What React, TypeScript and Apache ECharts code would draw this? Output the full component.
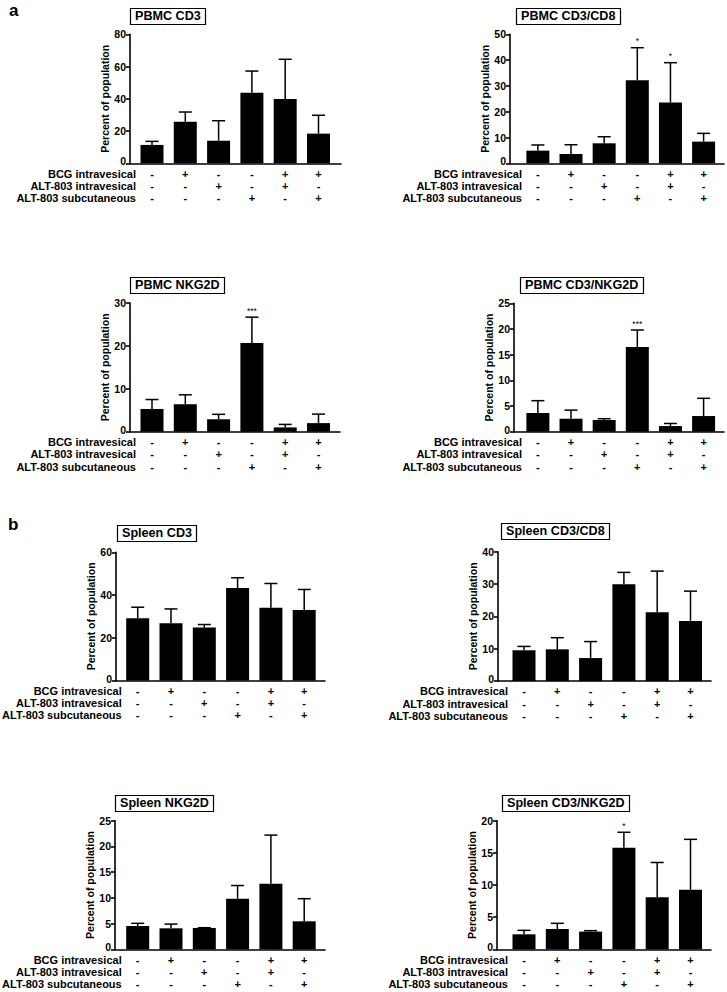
import React, { useEffect, useRef } from "react";
import * as echarts from "echarts";

// ---- data ----
const titles = [
  "PBMC CD3",
  "PBMC CD3/CD8",
  "PBMC NKG2D",
  "PBMC CD3/NKG2D",
  "Spleen CD3",
  "Spleen CD3/CD8",
  "Spleen NKG2D",
  "Spleen CD3/NKG2D",
];

const rowNames = ["BCG intravesical", "ALT-803 intravesical", "ALT-803 subcutaneous"];
const bcgIntravesical = ["-", "+", "-", "-", "+", "+"];
const altIntravesical = ["-", "-", "+", "-", "+", "-"];
const altSubcutaneous = ["-", "-", "-", "+", "-", "+"];

const pbmcCd3Mean = [11.4, 25.8, 14.0, 43.8, 39.9, 18.4];
const pbmcCd3Sd = [2.2, 6.0, 12.4, 13.4, 24.6, 11.4];
const pbmcCd3Cd8Mean = [4.9, 3.6, 7.75, 32.2, 23.6, 8.4];
const pbmcCd3Cd8Sd = [2.2, 3.6, 2.55, 12.6, 15.4, 3.2];
const pbmcNkg2dMean = [5.3, 6.4, 2.9, 20.7, 1.0, 2.0];
const pbmcNkg2dSd = [2.2, 2.2, 1.15, 6.0, 0.7, 2.1];
const pbmcCd3Nkg2dMean = [3.64, 2.53, 2.27, 16.5, 1.1, 3.05];
const pbmcCd3Nkg2dSd = [2.4, 1.67, 0.26, 3.3, 0.5, 3.45];
const spleenCd3Mean = [29.1, 26.8, 24.75, 43.3, 34.0, 33.0];
const spleenCd3Sd = [5.2, 6.7, 1.45, 4.8, 11.4, 9.6];
const spleenCd3Cd8Mean = [9.5, 9.8, 7.1, 29.9, 21.3, 18.6];
const spleenCd3Cd8Sd = [1.2, 3.6, 5.1, 3.7, 12.7, 9.2];
const spleenNkg2dMean = [4.53, 4.08, 4.15, 9.84, 12.76, 5.44];
const spleenNkg2dSd = [0.52, 0.82, 0.05, 2.56, 9.44, 4.4];
const spleenCd3Nkg2dMean = [2.33, 3.16, 2.75, 15.8, 8.08, 9.27];
const spleenCd3Nkg2dSd = [0.62, 0.88, 0.15, 2.4, 5.42, 7.83];

const pbmcCd3Sig = ["", "", "", "", "", ""];
const pbmcCd3Cd8Sig = ["", "", "", "*", "*", ""];
const pbmcNkg2dSig = ["", "", "", "***", "", ""];
const pbmcCd3Nkg2dSig = ["", "", "", "***", "", ""];
const spleenCd3Sig = ["", "", "", "", "", ""];
const spleenCd3Cd8Sig = ["", "", "", "", "", ""];
const spleenNkg2dSig = ["", "", "", "", "", ""];
const spleenCd3Nkg2dSig = ["", "", "", "*", "", ""];

const yMax = [80, 50, 30, 25, 60, 40, 25, 20];
const yStep = [20, 10, 10, 5, 20, 10, 5, 5];

const means = [
  pbmcCd3Mean, pbmcCd3Cd8Mean, pbmcNkg2dMean, pbmcCd3Nkg2dMean,
  spleenCd3Mean, spleenCd3Cd8Mean, spleenNkg2dMean, spleenCd3Nkg2dMean,
];
const sds = [
  pbmcCd3Sd, pbmcCd3Cd8Sd, pbmcNkg2dSd, pbmcCd3Nkg2dSd,
  spleenCd3Sd, spleenCd3Cd8Sd, spleenNkg2dSd, spleenCd3Nkg2dSd,
];
const sigs = [
  pbmcCd3Sig, pbmcCd3Cd8Sig, pbmcNkg2dSig, pbmcCd3Nkg2dSig,
  spleenCd3Sig, spleenCd3Cd8Sig, spleenNkg2dSig, spleenCd3Nkg2dSig,
];

// ---- layout (pixels) ----
const SPACING = 33.3;
const layout = [
  { axisX: 130, c0: 152, end: 341, top: 34.3, zero: 163.3, titleLeft: 130, titleTop: 8 },
  { axisX: 510, c0: 538, end: 725, top: 34.3, zero: 163.3, titleLeft: 516, titleTop: 8 },
  { axisX: 130, c0: 152, end: 340, top: 303, zero: 431.7, titleLeft: 130, titleTop: 277 },
  { axisX: 514, c0: 538, end: 725, top: 303.3, zero: 431.7, titleLeft: 520, titleTop: 277 },
  { axisX: 116, c0: 137.7, end: 325, top: 552.3, zero: 680.5, titleLeft: 117, titleTop: 525 },
  { axisX: 498, c0: 524, end: 711, top: 551.7, zero: 681, titleLeft: 501, titleTop: 523 },
  { axisX: 115, c0: 137.7, end: 325, top: 820.7, zero: 949.3, titleLeft: 115, titleTop: 795 },
  { axisX: 497, c0: 524, end: 711, top: 820.7, zero: 949.3, titleLeft: 502, titleTop: 795 },
];

const FONT = 'Arial, "Liberation Sans", Helvetica, sans-serif';
const LINE_H = 12.2;
const FIRST_ROW = 10.4;

function buildOption() {
  const grid: any[] = [];
  const xAxis: any[] = [];
  const yAxis: any[] = [];
  const series: any[] = [];
  const title: any[] = [];
  const graphic: any[] = [];

  layout.forEach((L, k) => {
    const lastCenter = L.c0 + 5 * SPACING;
    const xMin = -(L.c0 - L.axisX) / SPACING;
    const xMax = 5 + (L.end - lastCenter) / SPACING;
    grid.push({
      left: L.axisX,
      top: L.top,
      width: L.end - L.axisX,
      height: L.zero - L.top,
      containLabel: false,
    });
    xAxis.push({
      type: "value",
      gridIndex: k,
      min: xMin,
      max: xMax,
      splitLine: { show: false },
      axisTick: { show: false },
      axisLine: { show: true, onZero: false, lineStyle: { color: "#000", width: 1.6 } },
      axisLabel: {
        show: true,
        margin: FIRST_ROW - LINE_H / 2,
        lineHeight: LINE_H,
        fontSize: 11,
        fontWeight: "bold",
        fontFamily: FONT,
        color: "#000",
        showMinLabel: true,
        showMaxLabel: true,
        formatter: (v: number) => {
          const r = Math.round(v);
          if (Math.abs(v - r) > 1e-6 || r < 0 || r > 5) return "";
          return [bcgIntravesical[r], altIntravesical[r], altSubcutaneous[r]].join("\n");
        },
      },
    });
    const tickStyle = { fontSize: 10.5, fontWeight: "bold", fontFamily: FONT, color: "#000" };
    yAxis.push({
      type: "value",
      gridIndex: k,
      min: 0,
      max: yMax[k],
      interval: yStep[k],
      splitLine: { show: false },
      axisLine: { show: true, onZero: false, lineStyle: { color: "#000", width: 1.6 } },
      axisTick: { show: true, length: 4, lineStyle: { color: "#000", width: 1.6 } },
      axisLabel: {
        margin: 4,
        ...tickStyle,
        formatter: (v: number) => (v === 0 ? "{z|0}" : "{n|" + v + "}"),
        rich: {
          z: { ...tickStyle, padding: [0, 0, 4, 0] },
          n: { ...tickStyle },
        },
      },
      name: "Percent of population",
      nameLocation: "middle",
      nameGap: 20,
      nameTextStyle: {
        fontSize: 10.5,
        fontWeight: "bold",
        fontFamily: FONT,
        color: "#000",
      },
    });
    const m = means[k];
    const s = sds[k];
    const sg = sigs[k];
    series.push({
      type: "bar",
      xAxisIndex: k,
      yAxisIndex: k,
      barWidth: 23,
      itemStyle: { color: "#000" },
      data: m.map((v, i) => [i, v]),
      z: 2,
    });
    series.push({
      type: "custom",
      xAxisIndex: k,
      yAxisIndex: k,
      z: 3,
      data: m.map((v, i) => [i, v, s[i]]),
      renderItem: (params: any, api: any) => {
        const x = api.value(0);
        const mean = api.value(1);
        const sd = api.value(2);
        const p0 = api.coord([x, mean]);
        const p1 = api.coord([x, mean + sd]);
        const stroke = { stroke: "#000", lineWidth: 1.5 };
        const children: any[] = [
          { type: "line", shape: { x1: p0[0], y1: p0[1], x2: p1[0], y2: p1[1] }, style: stroke },
          { type: "line", shape: { x1: p1[0] - 6.5, y1: p1[1], x2: p1[0] + 6.5, y2: p1[1] }, style: stroke },
        ];
        const t = sg[params.dataIndex];
        if (t) {
          children.push({
            type: "text",
            x: p1[0],
            y: p1[1] - 2,
            style: {
              text: t,
              align: "center",
              verticalAlign: "bottom",
              fontSize: 8.5,
              fontFamily: FONT,
              fill: "#000",
            },
          });
        }
        return { type: "group", children };
      },
    });
    title.push({
      text: titles[k],
      left: L.titleLeft,
      top: L.titleTop,
      padding: [2, 5],
      borderColor: "#000",
      borderWidth: 1.2,
      textStyle: {
        fontSize: 12.6,
        fontWeight: "bold",
        fontFamily: FONT,
        color: "#000",
        lineHeight: 12.5,
      },
    });
    rowNames.forEach((name, r) => {
      graphic.push({
        type: "text",
        x: L.c0 - 16,
        y: L.zero + FIRST_ROW + r * LINE_H,
        style: {
          text: name,
          align: "right",
          verticalAlign: "middle",
          lineHeight: 10,
          fontSize: 11,
          fontWeight: "bold",
          fontFamily: FONT,
          fill: "#000",
        },
      });
    });
  });

  graphic.push({
    type: "text",
    x: 9,
    y: 10,
    style: { text: "a", verticalAlign: "middle", fontSize: 17, fontWeight: "bold", fontFamily: FONT, fill: "#000" },
  });
  graphic.push({
    type: "text",
    x: 8,
    y: 524,
    style: { text: "b", verticalAlign: "middle", fontSize: 17, fontWeight: "bold", fontFamily: FONT, fill: "#000" },
  });

  return {
    animation: false,
    backgroundColor: "#fff",
    textStyle: { fontFamily: FONT },
    title,
    grid,
    xAxis,
    yAxis,
    series,
    graphic,
  };
}

export default function App() {
  const ref = useRef<HTMLDivElement>(null);
  useEffect(() => {
    if (!ref.current) return;
    const chart = echarts.init(ref.current, null, { renderer: "svg" });
    chart.setOption(buildOption() as any);
    return () => chart.dispose();
  }, []);
  return (
    <div
      ref={ref}
      style={{ position: "absolute", left: 0, top: 0, width: 727, height: 992, background: "#fff" }}
    />
  );
}
